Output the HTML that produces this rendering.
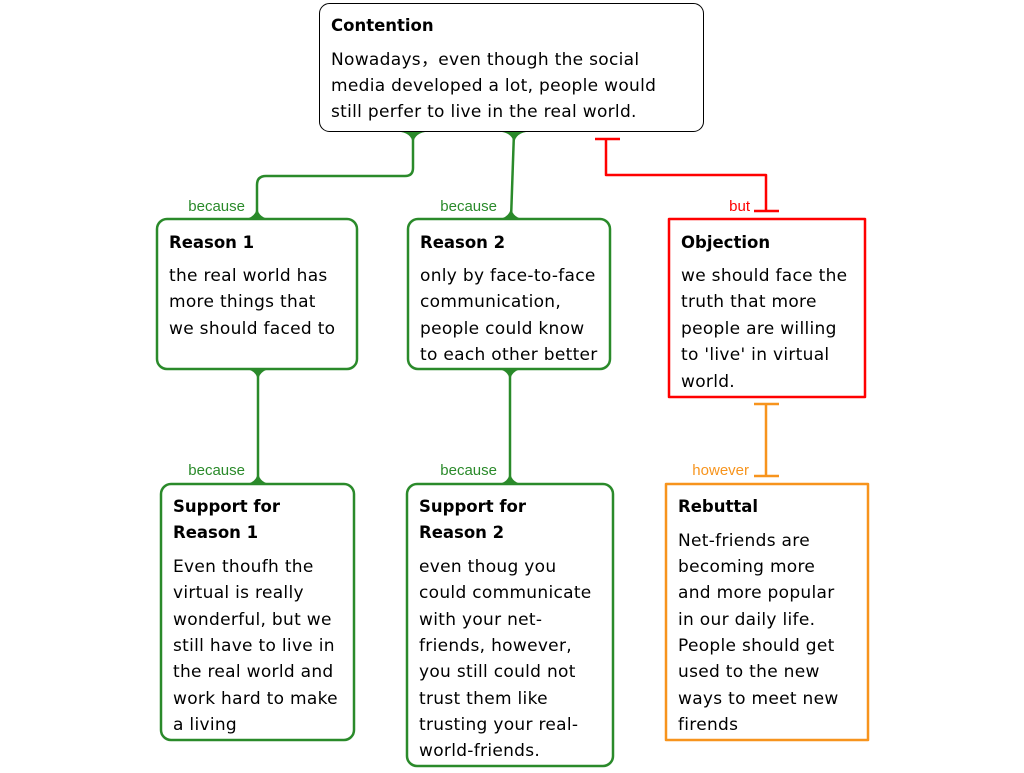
<!DOCTYPE html>
<html><head><meta charset="utf-8"><style>
body{margin:0;background:#fff;width:1024px;height:768px;overflow:hidden}
svg text{font-family:"Liberation Sans",Arial,sans-serif}
.t{font-size:16.5px;font-weight:bold;fill:#000;font-family:"DejaVu Sans",sans-serif!important}
.b{font-size:17px;fill:#000;font-family:"DejaVu Sans",sans-serif!important;letter-spacing:0.3px}
.l{font-size:15px}
</style></head><body>
<svg width="1024" height="768" xmlns="http://www.w3.org/2000/svg">
<g fill="none" stroke-linejoin="round">
<rect x="319.5" y="3.5" width="384" height="128" rx="10" stroke="#000" stroke-width="1"/>
<rect x="157" y="219" width="200" height="150" rx="10" stroke="#2a8a2a" stroke-width="2.5"/>
<rect x="408" y="219" width="202" height="150" rx="10" stroke="#2a8a2a" stroke-width="2.5"/>
<rect x="669" y="219" width="196" height="178" stroke="#f00" stroke-width="2.5"/>
<rect x="161" y="484" width="193" height="256" rx="10" stroke="#2a8a2a" stroke-width="2.5"/>
<rect x="407" y="484" width="206" height="282" rx="10" stroke="#2a8a2a" stroke-width="2.5"/>
<rect x="666" y="484" width="202" height="256" stroke="#f7941d" stroke-width="2.5"/>
<path d="M413 132 V168 Q413 176 405 176 H266 Q257 176 257 185 V219" stroke="#2a8a2a" stroke-width="2.5"/>
<path d="M514 132 L511 219" stroke="#2a8a2a" stroke-width="2.5"/>
<path d="M258 369 V484" stroke="#2a8a2a" stroke-width="2.5"/>
<path d="M510 369 V484" stroke="#2a8a2a" stroke-width="2.5"/>
<path d="M595 139 H620 M606 139 V175 H766 V211 M754 211 H779" stroke="#f00" stroke-width="2.5"/>
<path d="M754 404 H779 M766 404 V476 M754 476 H779" stroke="#f7941d" stroke-width="2.5"/>
</g>
<g fill="#2a8a2a">
<path d="M401 132 Q413 134 413 146 Q413 134 425 132Z"/>
<path d="M502 132 Q514 134 514 146 Q514 134 526 132Z"/>
<path d="M245 219 Q257 217 257 205 Q257 217 269 219Z"/>
<path d="M499 219 Q511 217 511 205 Q511 217 523 219Z"/>
<path d="M246 369 Q258 371 258 383 Q258 371 270 369Z"/>
<path d="M246 484 Q258 482 258 470 Q258 482 270 484Z"/>
<path d="M498 369 Q510 371 510 383 Q510 371 522 369Z"/>
<path d="M498 484 Q510 482 510 470 Q510 482 522 484Z"/>
</g>
<text class="l" x="245" y="211" text-anchor="end" fill="#2a8a2a">because</text>
<text class="l" x="497" y="211" text-anchor="end" fill="#2a8a2a">because</text>
<text class="l" x="750" y="211" text-anchor="end" fill="#f00">but</text>
<text class="l" x="245" y="475" text-anchor="end" fill="#2a8a2a">because</text>
<text class="l" x="497" y="475" text-anchor="end" fill="#2a8a2a">because</text>
<text class="l" x="749" y="475" text-anchor="end" fill="#f7941d">however</text>

<text class="t" x="331" y="31">Contention</text>
<text class="b" x="331" y="65">Nowadays，even though the social</text>
<text class="b" x="331" y="91">media developed a lot, people would</text>
<text class="b" x="331" y="117">still perfer to live in the real world.</text>

<text class="t" x="169" y="248">Reason 1</text>
<text class="b" x="169" y="281">the real world has</text>
<text class="b" x="169" y="307">more things that</text>
<text class="b" x="169" y="334">we should faced to</text>

<text class="t" x="420" y="248">Reason 2</text>
<text class="b" x="420" y="281">only by face-to-face</text>
<text class="b" x="420" y="307">communication,</text>
<text class="b" x="420" y="334">people could know</text>
<text class="b" x="420" y="360">to each other better</text>

<text class="t" x="681" y="248">Objection</text>
<text class="b" x="681" y="281">we should face the</text>
<text class="b" x="681" y="307">truth that more</text>
<text class="b" x="681" y="334">people are willing</text>
<text class="b" x="681" y="360">to 'live' in virtual</text>
<text class="b" x="681" y="387">world.</text>

<text class="t" x="173" y="512">Support for</text>
<text class="t" x="173" y="538">Reason 1</text>
<text class="b" x="173" y="572">Even thoufh the</text>
<text class="b" x="173" y="598">virtual is really</text>
<text class="b" x="173" y="625">wonderful, but we</text>
<text class="b" x="173" y="651">still have to live in</text>
<text class="b" x="173" y="677">the real world and</text>
<text class="b" x="173" y="704">work hard to make</text>
<text class="b" x="173" y="730">a living</text>

<text class="t" x="419" y="512">Support for</text>
<text class="t" x="419" y="538">Reason 2</text>
<text class="b" x="419" y="572">even thoug you</text>
<text class="b" x="419" y="598">could communicate</text>
<text class="b" x="419" y="625">with your net-</text>
<text class="b" x="419" y="651">friends, however,</text>
<text class="b" x="419" y="677">you still could not</text>
<text class="b" x="419" y="704">trust them like</text>
<text class="b" x="419" y="730">trusting your real-</text>
<text class="b" x="419" y="756">world-friends.</text>

<text class="t" x="678" y="512">Rebuttal</text>
<text class="b" x="678" y="546">Net-friends are</text>
<text class="b" x="678" y="572">becoming more</text>
<text class="b" x="678" y="598">and more popular</text>
<text class="b" x="678" y="625">in our daily life.</text>
<text class="b" x="678" y="651">People should get</text>
<text class="b" x="678" y="677">used to the new</text>
<text class="b" x="678" y="704">ways to meet new</text>
<text class="b" x="678" y="730">firends</text>
</svg>
</body></html>
